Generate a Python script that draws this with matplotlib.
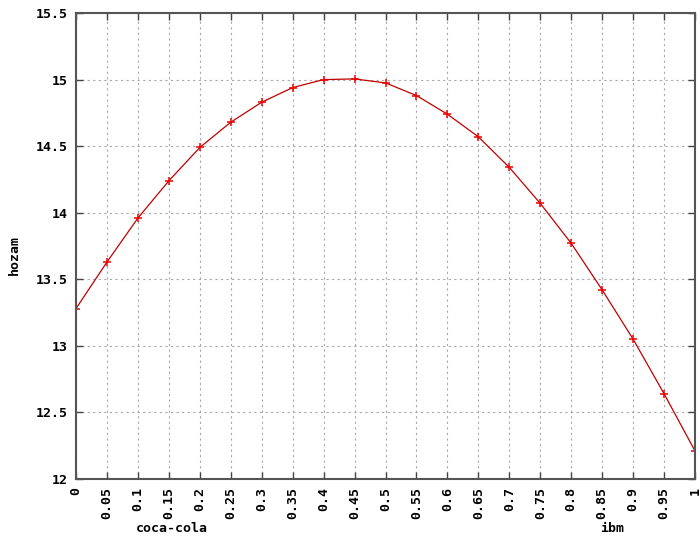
import matplotlib
matplotlib.use("Agg")
import matplotlib.pyplot as plt

# portfolio weight and return
weights = [0, 0.05, 0.1, 0.15, 0.2, 0.25, 0.3, 0.35, 0.4, 0.45, 0.5,
           0.55, 0.6, 0.65, 0.7, 0.75, 0.8, 0.85, 0.9, 0.95, 1.0]
hozam = [13.28, 13.63, 13.96, 14.24, 14.49, 14.68, 14.83, 14.94, 15.00, 15.005, 14.975,
         14.88, 14.74, 14.57, 14.34, 14.07, 13.77, 13.42, 13.05, 12.64, 12.21]
xticks = [0, 0.05, 0.1, 0.15, 0.2, 0.25, 0.3, 0.35, 0.4, 0.45, 0.5,
          0.55, 0.6, 0.65, 0.7, 0.75, 0.8, 0.85, 0.9, 0.95, 1]
xtick_labels = ["0", "0.05", "0.1", "0.15", "0.2", "0.25", "0.3", "0.35", "0.4", "0.45", "0.5",
                "0.55", "0.6", "0.65", "0.7", "0.75", "0.8", "0.85", "0.9", "0.95", "1"]
yticks = [12, 12.5, 13, 13.5, 14, 14.5, 15, 15.5]
ytick_labels = ["12", "12.5", "13", "13.5", "14", "14.5", "15", "15.5"]

font = {"family": "DejaVu Sans Mono", "weight": "bold", "size": 9.5}

fig = plt.figure(figsize=(7, 5.38), dpi=100)
ax = fig.add_axes([0.1086, 0.1097, 0.8843, 0.8661])

ax.plot(weights, hozam, color="#c00000", lw=0.9, marker="+", ms=6, mew=1.1,
        markeredgecolor="#ee0000")

ax.set_xlim(0, 1)
ax.set_ylim(12, 15.5)
ax.set_xticks(xticks)
ax.set_xticklabels(xtick_labels, rotation=90, fontdict=font)
ax.set_yticks(yticks)
ax.set_yticklabels(ytick_labels, fontdict=font)
ax.tick_params(direction="in", length=5, width=1, top=True, right=True,
               color="#444444", pad=6)
ax.grid(True, color="#a8a8a8", linestyle=(0, (2, 3)), linewidth=0.8)
for s in ax.spines.values():
    s.set_color("#555555")
    s.set_linewidth(1.5)

fig.text(172 / 700, 1 - 528 / 538, "coca-cola", ha="center", va="center", **font)
fig.text(612 / 700, 1 - 528 / 538, "ibm", ha="center", va="center", **font)
fig.text(14 / 700, 1 - 255 / 538, "hozam", ha="center", va="center", rotation=90, **font)

fig.savefig("out.png", dpi=100)
